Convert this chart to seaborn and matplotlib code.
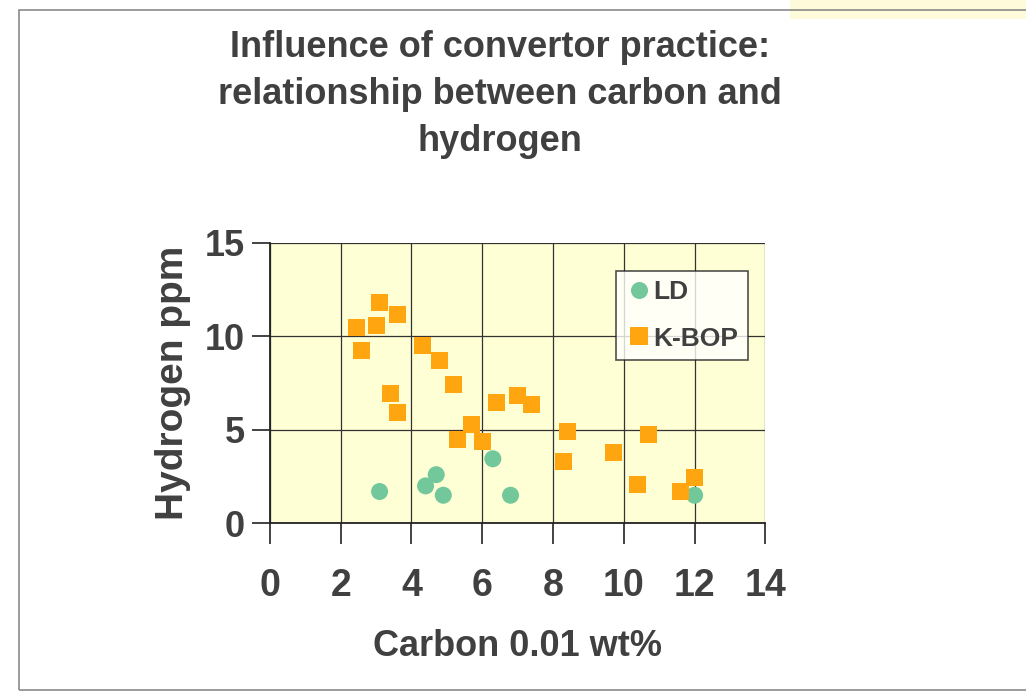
import numpy as np
import pandas as pd
import matplotlib.pyplot as plt
import seaborn as sns
from matplotlib.patches import Rectangle

# values
ld_carbon = [3.1, 4.4, 4.7, 4.9, 6.3, 6.8, 12.0]
ld_hydrogen = [1.7, 2.0, 2.6, 1.5, 3.45, 1.5, 1.5]

kbop_carbon = [2.45, 2.6, 3.0, 3.1, 3.6, 3.4, 3.6, 4.3, 4.8, 5.2, 5.7, 5.3, 6.0,
               6.4, 7.0, 7.4, 8.4, 8.3, 9.7, 10.7, 10.4, 11.6, 12.0]
kbop_hydrogen = [10.5, 9.25, 10.6, 11.8, 11.15, 6.95, 5.9, 9.5, 8.7, 7.4, 5.3, 4.5, 4.4,
                 6.45, 6.85, 6.35, 4.9, 3.3, 3.8, 4.75, 2.05, 1.7, 2.45]

title = "Influence of convertor practice:\nrelationship between carbon and\nhydrogen"
x_ticks = [0, 2, 4, 6, 8, 10, 12, 14]
y_ticks = [0, 5, 10, 15]

df = pd.DataFrame({
    "carbon": ld_carbon + kbop_carbon,
    "hydrogen": ld_hydrogen + kbop_hydrogen,
    "process": ["LD"] * len(ld_carbon) + ["K-BOP"] * len(kbop_carbon),
})

sns.set_style("white")
plt.rcParams['font.family'] = ['Liberation Sans', 'DejaVu Sans']
txt = "#404040"

fig = plt.figure(figsize=(10.26, 6.94), dpi=100)
# slide frame
fig.patches.append(Rectangle((0.77, 0.972), 0.23, 0.028, transform=fig.transFigure,
                             facecolor="#fdfbd9", edgecolor="none", zorder=0))
fig.patches.append(Rectangle((0.019, 0.006), 1.2, 0.98, transform=fig.transFigure,
                             facecolor="none", edgecolor="#8a8a8a", lw=1.2, zorder=1))

ax = fig.add_axes([0.263, 0.246, 0.483, 0.404])
ax.set_facecolor("#ffffd6")

sns.scatterplot(data=df, x="carbon", y="hydrogen", hue="process", style="process",
                markers={"LD": "o", "K-BOP": "s"},
                palette={"LD": "#72c89a", "K-BOP": "#ffa510"},
                s=150, linewidth=0, ax=ax, zorder=3)

ax.set_xlim(0, 14)
ax.set_ylim(0, 15)
ax.set_xticks(x_ticks)
ax.set_yticks(y_ticks)
ax.grid(True, color="#333333", lw=0.9)
ax.set_axisbelow(True)
for s in ["top", "right"]:
    ax.spines[s].set_visible(False)
for s in ["left", "bottom"]:
    ax.spines[s].set_color("#222222")
    ax.spines[s].set_linewidth(1.3)

ax.tick_params(axis="x", bottom=True, direction="out", length=15, width=1.2,
               color="#222222", pad=17, labelsize=27, labelcolor=txt)
ax.tick_params(axis="y", left=True, direction="out", length=13, width=1.2,
               color="#222222", pad=5, labelsize=26, labelcolor=txt)
for lab in ax.get_xticklabels() + ax.get_yticklabels():
    lab.set_fontweight("bold")

ax.set_xlabel("Carbon 0.01 wt%", fontsize=26, fontweight="bold", color=txt, labelpad=18)
ax.set_ylabel("Hydrogen ppm", fontsize=28, fontweight="bold", color=txt, labelpad=10)

leg = ax.legend(loc="upper right", bbox_to_anchor=(0.964, 0.9), borderaxespad=0,
                frameon=True, fancybox=False, edgecolor="#222222", handletextpad=0.05,
                borderpad=0.35, labelspacing=0.85, handlelength=1.0,
                prop={"weight": "bold", "size": 19}, markerscale=1.0)
leg.get_frame().set_linewidth(1.2)
for t in leg.get_texts():
    t.set_color(txt)

fig.text(0.487, 0.957, title, ha="center", va="top", fontsize=26, fontweight="bold",
         color=txt, linespacing=1.45)

fig.savefig("out.png", dpi=100, facecolor="white")
